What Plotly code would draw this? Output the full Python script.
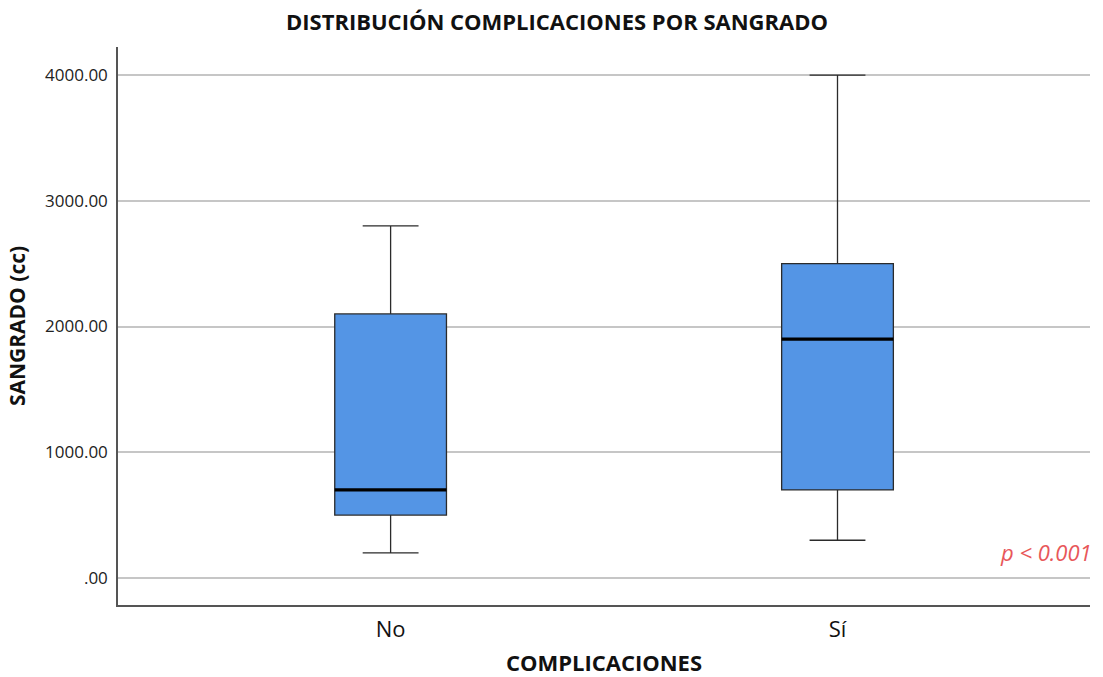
import plotly.graph_objects as go

categories = ["No", "Sí"]
lower_whisker = [200, 300]
q1 = [500, 700]
median = [700, 1900]
q3 = [2100, 2500]
upper_whisker = [2800, 4000]
tick_vals = [0, 1000, 2000, 3000, 4000]
tick_text = [".00", "1000.00", "2000.00", "3000.00", "4000.00"]

fig = go.Figure()
fig.add_trace(go.Box(
    x=categories, q1=q1, median=median, q3=q3,
    lowerfence=lower_whisker, upperfence=upper_whisker,
    fillcolor="#5495e5", line=dict(color="#2b2b2b", width=1.3),
    width=0.25, whiskerwidth=0.5, boxpoints=False, hoverinfo="skip",
    showlegend=False,
))
# thick median line
fig.add_trace(go.Box(
    x=categories, q1=median, median=median, q3=median,
    lowerfence=median, upperfence=median,
    fillcolor="rgba(0,0,0,0)", line=dict(color="#000000", width=3.2),
    width=0.25, whiskerwidth=0, boxpoints=False, hoverinfo="skip",
    showlegend=False,
))

fig.update_layout(
    width=1103, height=677,
    boxmode="overlay",
    paper_bgcolor="white", plot_bgcolor="white",
    margin=dict(l=118, r=13, t=47, b=72, autoexpand=False),
    title=dict(text="<b>DISTRIBUCIÓN COMPLICACIONES POR SANGRADO</b>",
               x=0.505, xanchor="center", y=0.967, yanchor="middle",
               font=dict(family="Open Sans", size=22, color="#111")),
    xaxis=dict(
        range=[-0.61, 1.565], showgrid=False, zeroline=False, automargin=False,
        showline=True, linecolor="#555", linewidth=1.5,
        ticks="", tickfont=dict(family="Open Sans", size=22, color="#111"),
        ticklabelstandoff=4,
        title=dict(text="<b>COMPLICACIONES</b>", standoff=16,
                   font=dict(family="Open Sans", size=22, color="#111")),
    ),
    yaxis=dict(
        range=[-215, 4223], tickvals=tick_vals, ticktext=tick_text,
        showgrid=True, gridcolor="#c6c6c6", gridwidth=1.5, zeroline=False,
        showline=True, linecolor="#555", linewidth=1.5, automargin=False,
        ticks="", tickfont=dict(family="Open Sans", size=17, color="#222"),
        ticklabelstandoff=5,
        title=dict(text="<b>SANGRADO (cc)</b>", standoff=14,
                   font=dict(family="Open Sans", size=21, color="#111")),
    ),
    annotations=[dict(
        text="<i>p < 0.001</i>", xref="paper", yref="paper",
        x=1.004, y=0.095, xanchor="right", yanchor="middle", showarrow=False,
        font=dict(family="Open Sans", size=22, color="#e8575a"),
    )],
)

fig.write_html("out.html", config={"displayModeBar": False},
               post_script="document.body.style.margin='0';")
